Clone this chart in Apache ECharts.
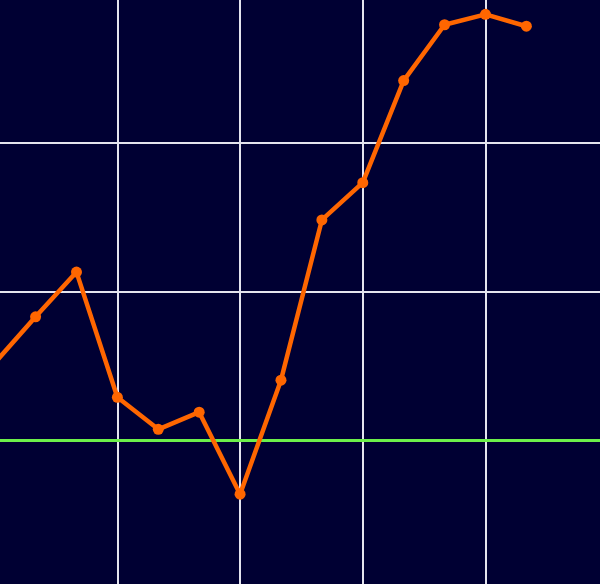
<!DOCTYPE html>
<html>
<head>
<meta charset="utf-8">
<script src="https://cdn.jsdelivr.net/npm/echarts@6/dist/echarts.min.js"></script>
<style>
html,body{margin:0;padding:0;background:#000033;}
#chart{width:600px;height:584px;}
</style>
</head>
<body>
<div id="chart"></div>
<script>
// Data (x index, y value)
const xIndex = [0,1,2,3,4,5,6,7,8,9,10,11,12,13];
const yValues = [5.2,8.3,11.3,2.9,0.75,1.9,-3.6,4.05,14.8,17.3,24.15,27.9,28.6,27.8];
// Grid line positions
const xGridLines = [3,6,9,12];
const yGridLines = [10,20];
const baseLine = 0;

const chart = echarts.init(document.getElementById('chart'), null, {renderer:'canvas'});
const data = xIndex.map((x,i)=>[x,yValues[i]]);
const gridColor = '#e4e4ee';
const markData = [
  ...xGridLines.map(v=>({xAxis:v, lineStyle:{color:gridColor, width:2, type:'solid'}})),
  ...yGridLines.map(v=>({yAxis:v, lineStyle:{color:gridColor, width:2, type:'solid'}})),
  {yAxis:baseLine, lineStyle:{color:'#6cf04a', width:3, type:'solid'}}
];
chart.setOption({
  backgroundColor:'#000033',
  animation:false,
  grid:{left:0, right:0, top:0, bottom:0, containLabel:false},
  xAxis:{
    type:'value', min:0.13, max:14.8,
    axisLine:{show:false}, axisTick:{show:false}, axisLabel:{show:false},
    splitLine:{show:false}
  },
  yAxis:{
    type:'value', min:-9.63, max:29.56,
    axisLine:{show:false}, axisTick:{show:false}, axisLabel:{show:false},
    splitLine:{show:false}
  },
  series:[{
    type:'line', data:[], z:1, silent:true,
    markLine:{silent:true, symbol:['none','none'], label:{show:false}, data:markData, animation:false}
  },{
    type:'line', data:data,
    lineStyle:{color:'#ff6600', width:4.5},
    itemStyle:{color:'#ff6600'},
    symbol:'circle', symbolSize:11, showSymbol:true,
    z:5
  }]
});
</script>
</body>
</html>
